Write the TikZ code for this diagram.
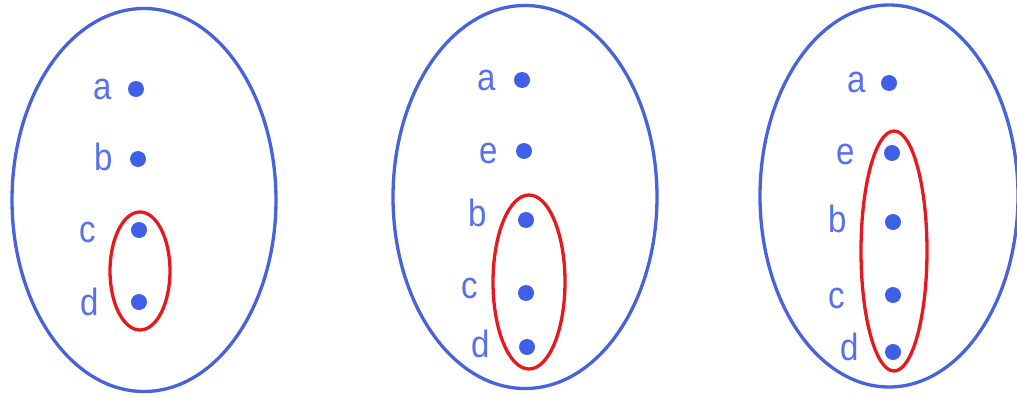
\documentclass[tikz,border=0pt]{standalone}
\usepackage{fontspec}
\setmainfont{Liberation Sans}
\usetikzlibrary{shapes.geometric}
\definecolor{setblue}{RGB}{72,98,222}
\definecolor{dotblue}{RGB}{62,96,230}
\definecolor{lblblue}{RGB}{86,112,238}
\definecolor{subred}{RGB}{232,24,28}
\begin{document}
\begin{tikzpicture}[x=1pt,y=-1pt,
  setline/.style={draw=setblue,line width=3.3pt},
  subline/.style={draw=subred,line width=3.3pt},
  elem/.style={circle,fill=dotblue,inner sep=0pt,minimum size=16pt},
  lbl/.style={inner sep=0pt,text=lblblue,font=\fontsize{33}{33}\selectfont}]
\useasboundingbox (0,0) rectangle (1017,396);
\clip (0,0) rectangle (1017,396);
\newcommand{\lt}[1]{\scalebox{1}[1.15]{#1}}
% left set
\node[setline,ellipse,minimum width=264pt,minimum height=383pt,inner sep=0pt] (S1) at (144,200) {};
\node[elem] (a1) at (136,89) {};
\node[elem] (b1) at (138,159) {};
\node[elem] (c1) at (139,230) {};
\node[elem] (d1) at (139,302) {};
\node[lbl] (la1) at (103,89) {\lt{a}};
\node[lbl] (lb1) at (104,157) {\lt{b}};
\node[lbl] (lc1) at (88,232) {\lt{c}};
\node[lbl] (ld1) at (90,302) {\lt{d}};
\node[subline,ellipse,minimum width=60pt,minimum height=118pt,inner sep=0pt] (R1) at (140,271) {};
% middle set
\node[setline,ellipse,minimum width=264pt,minimum height=383pt,inner sep=0pt] (S2) at (525,197) {};
\node[elem] (a2) at (522,80) {};
\node[elem] (e2) at (524,151) {};
\node[elem] (b2) at (526,220) {};
\node[elem] (c2) at (526,293) {};
\node[elem] (d2) at (527,347) {};
\node[lbl] (la2) at (487,80) {\lt{a}};
\node[lbl] (le2) at (489,153) {\lt{e}};
\node[lbl] (lb2) at (478,213) {\lt{b}};
\node[lbl] (lc2) at (470,288) {\lt{c}};
\node[lbl] (ld2) at (481,344) {\lt{d}};
\node[subline,ellipse,minimum width=72pt,minimum height=174pt,inner sep=0pt] (R2) at (529,282) {};
% right set
\node[setline,ellipse,minimum width=258pt,minimum height=382pt,inner sep=0pt] (S3) at (889,196) {};
\node[elem] (a3) at (889,83) {};
\node[elem] (e3) at (892,153) {};
\node[elem] (b3) at (893,222) {};
\node[elem] (c3) at (893,295) {};
\node[elem] (d3) at (893,352) {};
\node[lbl] (la3) at (857,82) {\lt{a}};
\node[lbl] (le3) at (846,154) {\lt{e}};
\node[lbl] (lb3) at (838,219) {\lt{b}};
\node[lbl] (lc3) at (837,298) {\lt{c}};
\node[lbl] (ld3) at (850,347) {\lt{d}};
\node[subline,ellipse,minimum width=66pt,minimum height=240pt,inner sep=0pt] (R3) at (894,251) {};
\end{tikzpicture}
\end{document}
